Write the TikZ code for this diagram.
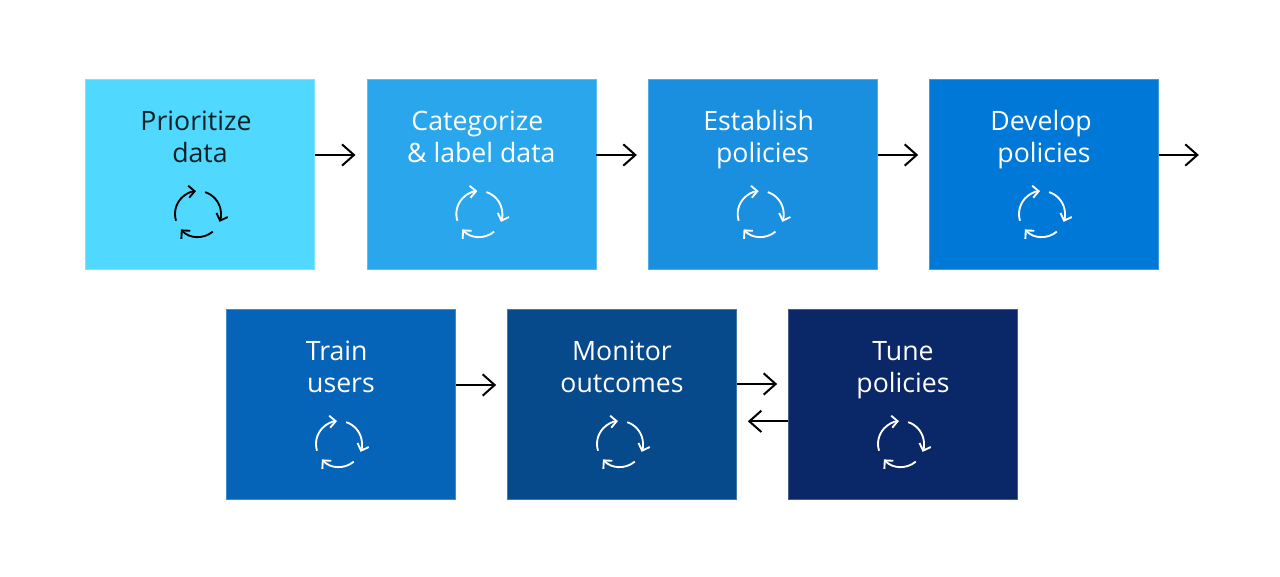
\documentclass[tikz,border=0pt]{standalone}
\usepackage{fontspec}
\setmainfont{Open Sans}
\usetikzlibrary{arrows.meta,positioning}

\definecolor{stepa}{HTML}{50D8FF}
\definecolor{stepb}{HTML}{2AA7EC}
\definecolor{stepc}{HTML}{1A8FE0}
\definecolor{stepd}{HTML}{0078D7}
\definecolor{stepe}{HTML}{0563B8}
\definecolor{stepf}{HTML}{064A8C}
\definecolor{stepg}{HTML}{0A2767}

\tikzset{
    stepbox/.style={minimum width=171.75pt, minimum height=142.5pt, inner sep=0pt, fill=#1, draw=#1!75!white, line width=0.5pt},
    steplabel/.style={align=center, anchor=base, font=\fontsize{20}{24}\selectfont, text=#1},
    flow/.style={->, >={Straight Barb[length=9pt, width=16pt, line width=1.5pt]}, line width=1.5pt, black},
    cycle/.style={->, >={Straight Barb[length=4.5pt, width=9pt, line width=1.4pt]}, line width=1.4pt, #1}
}

% three arcs of the round icon
\newcommand{\cycleicon}[2]{
    \draw[cycle=#2] ([shift={(197:23)}]#1) arc[start angle=197, end angle=95, radius=23];
    \draw[cycle=#2] ([shift={(72:23)}]#1) arc[start angle=72, end angle=-20, radius=23];
    \draw[cycle=#2] ([shift={(-50:23)}]#1) arc[start angle=-50, end angle=-138, radius=23];
}

\begin{document}
\begin{tikzpicture}[x=0.75pt, y=0.75pt]
    \useasboundingbox (0, 0) rectangle (1280, 577);

    % top row
    \node[stepbox=stepa] (prioritize) at (200, 403) {};
    \node[stepbox=stepb, right=38.75pt of prioritize] (categorize) {};
    \node[stepbox=stepc, right=38.75pt of categorize] (establish) {};
    \node[stepbox=stepd, right=38.75pt of establish] (develop) {};

    % bottom row
    \node[stepbox=stepe] (train) at (341, 173) {};
    \node[stepbox=stepf, right=38.5pt of train] (monitor) {};
    \node[stepbox=stepg, right=38.5pt of monitor] (tune) {};

    \node[steplabel=black!85!stepa] at ([yshift=8.25pt]prioritize.center) {Prioritize\kern6pt\\data};
    \node[steplabel=white] at ([yshift=8.25pt]categorize.center) {Categorize\kern6pt\\\&~label data};
    \node[steplabel=white] at ([yshift=8.25pt]establish.center) {Establish\kern6pt\\policies};
    \node[steplabel=white] at ([yshift=8.25pt]develop.center) {Develop\kern4.5pt\\policies};
    \node[steplabel=white] at ([yshift=8.25pt]train.center) {Train\kern6.5pt\\users};
    \node[steplabel=white] at ([yshift=8.25pt]monitor.center) {Monitor\\outcomes};
    \node[steplabel=white] at ([yshift=8.25pt]tune.center) {Tune\\policies};

    \coordinate (iconA) at ([xshift=-1.5pt, yshift=-30pt]prioritize.center);
    \coordinate (iconB) at ([xshift=-1.5pt, yshift=-30pt]categorize.center);
    \coordinate (iconC) at ([xshift=-1.5pt, yshift=-30pt]establish.center);
    \coordinate (iconD) at ([xshift=-1.5pt, yshift=-30pt]develop.center);
    \coordinate (iconE) at ([xshift=-1.5pt, yshift=-30pt]train.center);
    \coordinate (iconF) at ([xshift=-1.5pt, yshift=-30pt]monitor.center);
    \coordinate (iconG) at ([xshift=-1.5pt, yshift=-30pt]tune.center);

    \cycleicon{iconA}{black}
    \cycleicon{iconB}{white}
    \cycleicon{iconC}{white}
    \cycleicon{iconD}{white}
    \cycleicon{iconE}{white}
    \cycleicon{iconF}{white}
    \cycleicon{iconG}{white}

    \coordinate (out) at ([xshift=30pt, yshift=14.25pt]develop.east);
    \draw[flow] ([yshift=14.25pt]prioritize.east) -- ([xshift=-8.25pt, yshift=14.25pt]categorize.west);
    \draw[flow] ([yshift=14.25pt]categorize.east) -- ([xshift=-8.25pt, yshift=14.25pt]establish.west);
    \draw[flow] ([yshift=14.25pt]establish.east) -- ([xshift=-8.25pt, yshift=14.25pt]develop.west);
    \draw[flow] ([yshift=14.25pt]develop.east) -- (out);
    \draw[flow] ([yshift=14.25pt]train.east) -- ([xshift=-8.25pt, yshift=14.25pt]monitor.west);
    \draw[flow] ([yshift=15pt]monitor.east) -- ([yshift=15pt, xshift=-8.25pt]tune.west);
    \draw[flow] ([yshift=-13pt]tune.west) -- ([yshift=-13pt, xshift=8.25pt]monitor.east);
\end{tikzpicture}
\end{document}
